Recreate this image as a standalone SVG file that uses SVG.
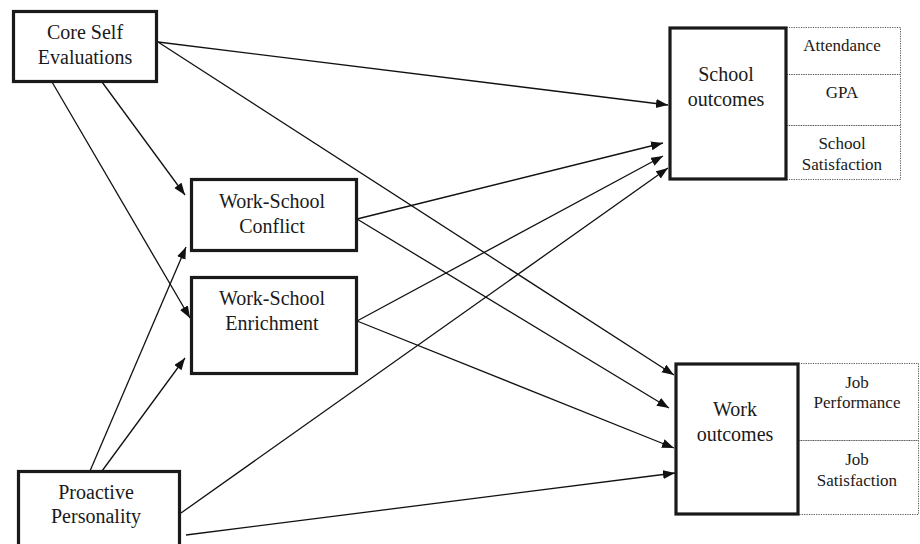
<svg xmlns="http://www.w3.org/2000/svg" width="920" height="544" viewBox="0 0 920 544">
<style>
.box{fill:#fff;stroke:#1a1a1a;stroke-width:3.2}
.sub{fill:#fff;stroke:#555;stroke-width:1;stroke-dasharray:1.2,1.2}
.t{font-family:"Liberation Serif","Times New Roman",serif;font-size:20px;fill:#1a1a1a;text-anchor:middle}
.s{font-family:"Liberation Serif","Times New Roman",serif;font-size:17px;fill:#1a1a1a;text-anchor:middle}
.c{stroke:#111;stroke-width:1.3;fill:none;marker-end:url(#ah)}
</style>
<defs>
<marker id="ah" markerUnits="userSpaceOnUse" markerWidth="13" markerHeight="10" refX="12" refY="4.5" orient="auto">
<path d="M0,0 L12,4.5 L0,9 z" fill="#111"/>
</marker>
</defs>
<rect width="920" height="544" fill="#fff"/>
<g id="connectors">
<line class="c" x1="158" y1="42" x2="668" y2="105"/>
<line class="c" x1="158" y1="42" x2="674" y2="375"/>
<line class="c" x1="102" y1="82" x2="185" y2="195"/>
<line class="c" x1="52" y1="82" x2="190" y2="318"/>
<line class="c" x1="90" y1="471" x2="186" y2="247"/>
<line class="c" x1="102" y1="471" x2="185" y2="358"/>
<line class="c" x1="357" y1="219" x2="663" y2="143"/>
<line class="c" x1="357" y1="219" x2="669" y2="408"/>
<line class="c" x1="357" y1="321" x2="663" y2="156"/>
<line class="c" x1="357" y1="321" x2="674" y2="448"/>
<line class="c" x1="181" y1="513" x2="668" y2="168"/>
<line class="c" x1="186" y1="535" x2="675" y2="473"/>
</g>
<g id="core-self">
<rect class="box" x="13.5" y="11.5" width="143" height="70"/>
<text class="t" x="85" y="39">Core Self</text>
<text class="t" x="85" y="64">Evaluations</text>
</g>
<g id="conflict">
<rect class="box" x="191.5" y="179.5" width="165" height="71"/>
<text class="t" x="272" y="208">Work-School</text>
<text class="t" x="272" y="233">Conflict</text>
</g>
<g id="enrichment">
<rect class="box" x="191.5" y="277.5" width="165" height="96"/>
<text class="t" x="272" y="305">Work-School</text>
<text class="t" x="272" y="330">Enrichment</text>
</g>
<g id="proactive">
<rect class="box" x="18.5" y="471.5" width="161" height="80"/>
<text class="t" x="96" y="499">Proactive</text>
<text class="t" x="96" y="523">Personality</text>
</g>
<g id="school-outcomes">
<rect class="sub" x="786.5" y="27.5" width="114" height="47"/>
<rect class="sub" x="786.5" y="74.5" width="114" height="51"/>
<rect class="sub" x="786.5" y="125.5" width="114" height="54"/>
<rect class="box" x="670" y="28" width="116" height="151"/>
<text class="t" x="726" y="81">School</text>
<text class="t" x="726" y="106">outcomes</text>
<text class="s" x="842" y="51">Attendance</text>
<text class="s" x="842" y="98">GPA</text>
<text class="s" x="842" y="149">School</text>
<text class="s" x="842" y="170">Satisfaction</text>
</g>
<g id="work-outcomes">
<rect class="sub" x="798.5" y="363.5" width="120" height="77"/>
<rect class="sub" x="798.5" y="440.5" width="120" height="74"/>
<rect class="box" x="676" y="364" width="122" height="150"/>
<text class="t" x="735" y="416">Work</text>
<text class="t" x="735" y="441">outcomes</text>
<text class="s" x="857" y="388">Job</text>
<text class="s" x="857" y="408">Performance</text>
<text class="s" x="857" y="465">Job</text>
<text class="s" x="857" y="486">Satisfaction</text>
</g>
</svg>
